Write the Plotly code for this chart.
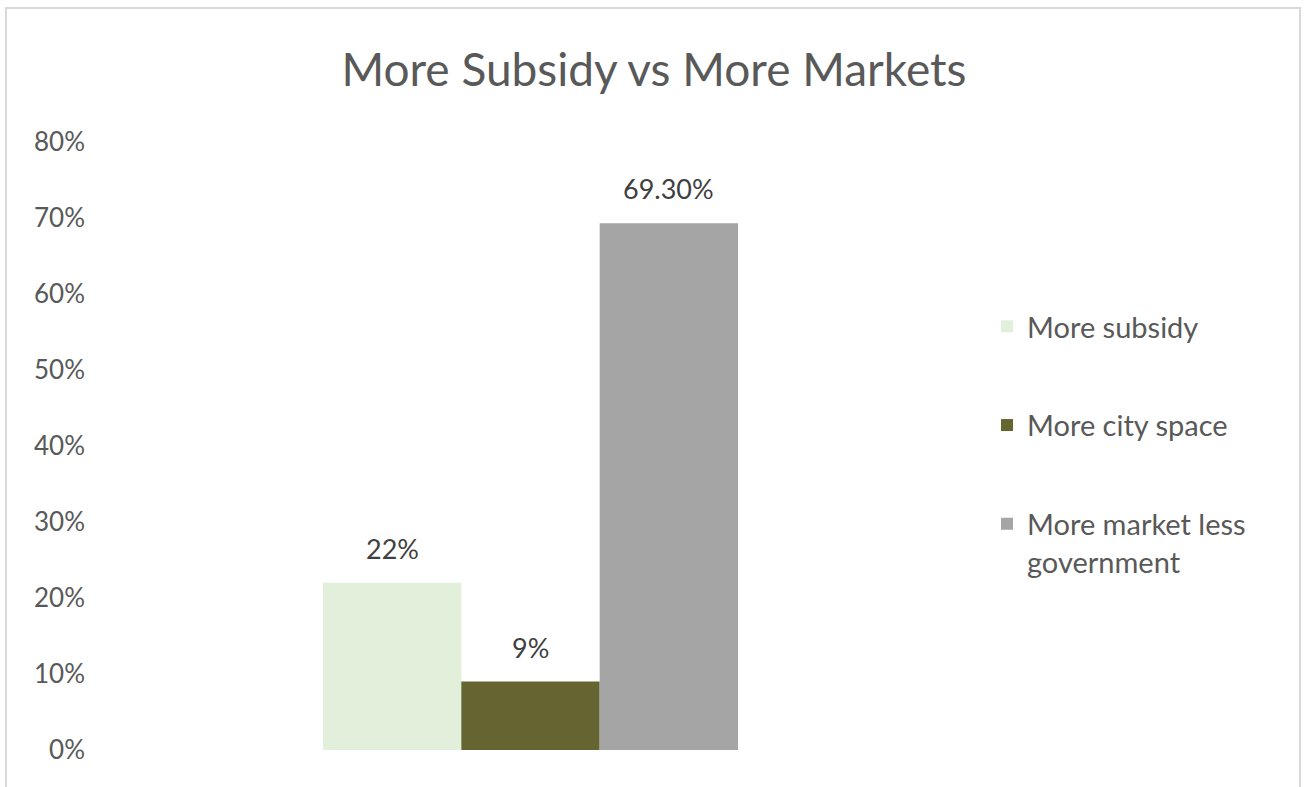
import plotly.graph_objects as go

# Survey responses: preferred housing policy direction
series_names = ["More subsidy", "More city space", "More market less<br>government"]
series_values = [0.22, 0.09, 0.693]
label_decimals = [0, 0, 2]
series_colors = ["#e2efda", "#656531", "#a5a5a5"]
category = [""]

W, H = 1304, 787
left, right, top, bottom = 100, 961, 142, 750
pw, ph = right - left, bottom - top
bargap = 0.518
bar_px = pw * (1 - bargap) / len(series_values)

FONT = "Lato, Open Sans, sans-serif"


def px_x(x):
    return (x - left) / pw


def px_y(y):
    return (bottom - y) / ph


fig = go.Figure()
annotations = []
n = len(series_values)
for i, (name, val, dec, col) in enumerate(zip(series_names, series_values, label_decimals, series_colors)):
    fig.add_trace(go.Bar(
        x=category, y=[val], name=name,
        marker=dict(color=col, line=dict(width=0)),
        legendgroup=name,
    ))
    # value label above each bar
    annotations.append(dict(
        x=0, y=val, xref="x", yref="y", text=f"{val * 100:.{dec}f}%",
        showarrow=False, yanchor="bottom", xanchor="center",
        xshift=(i - (n - 1) / 2) * bar_px, yshift=16,
        font=dict(family=FONT, size=27, color="#404040"),
    ))

fig.update_layout(
    width=W, height=H,
    margin=dict(l=left, r=W - right, t=top, b=H - bottom, pad=0),
    paper_bgcolor="white", plot_bgcolor="white",
    barmode="group", bargap=bargap, bargroupgap=0,
    title=dict(text="More Subsidy vs More Markets", x=0.5015, xref="container",
               y=1 - 70 / H, yref="container", xanchor="center", yanchor="middle",
               font=dict(family=FONT, size=46, color="#595959")),
    font=dict(family=FONT, color="#595959"),
    showlegend=True,
    legend=dict(x=px_x(987), y=px_y(301), xanchor="left", yanchor="top",
                font=dict(size=29, color="#595959"), tracegroupgap=58,
                valign="top",
                bgcolor="rgba(0,0,0,0)", borderwidth=0, itemwidth=30),
    xaxis=dict(showticklabels=False, showline=False, showgrid=False, zeroline=False, ticks=""),
    yaxis=dict(range=[0, 0.8], dtick=0.1, tickformat=".0%", showgrid=False, zeroline=False,
               showline=False, ticks="", ticklabelstandoff=14,
               tickfont=dict(size=26, color="#595959")),
    annotations=annotations,
    shapes=[dict(type="rect", xref="paper", yref="paper",
                 x0=px_x(6), x1=px_x(1300), y0=px_y(812), y1=px_y(8),
                 line=dict(color="#d9d9d9", width=2), fillcolor="rgba(0,0,0,0)",
                 layer="below")],
)

fig.write_html("out.html")
